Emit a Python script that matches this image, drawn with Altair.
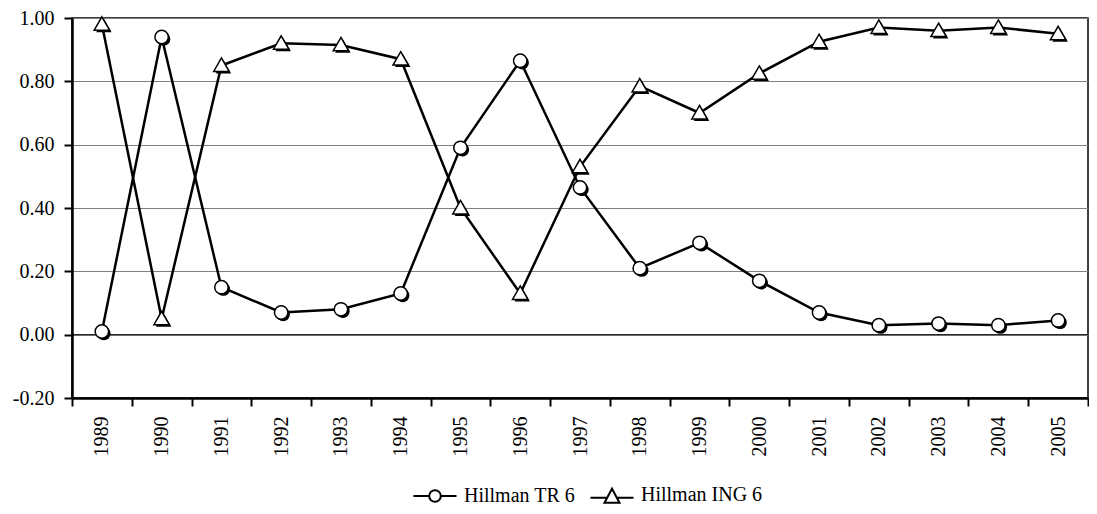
import altair as alt
import pandas as pd

years = [str(y) for y in range(1989, 2006)]
series_names = ["Hillman TR 6", "Hillman ING 6"]
tr6 = [0.01, 0.94, 0.15, 0.07, 0.08, 0.13, 0.59, 0.865, 0.465, 0.21, 0.29, 0.17, 0.07, 0.03, 0.035, 0.03, 0.045]
ing6 = [0.98, 0.05, 0.85, 0.92, 0.915, 0.87, 0.40, 0.13, 0.53, 0.785, 0.70, 0.825, 0.925, 0.97, 0.96, 0.97, 0.95]
y_ticks = [-0.2, 0.0, 0.2, 0.4, 0.6, 0.8, 1.0]

rows = []
for name, vals in zip(series_names, [tr6, ing6]):
    for yr, v in zip(years, vals):
        rows.append({"year": yr, "series": name, "value": v})
df = pd.DataFrame(rows)
zero_df = pd.DataFrame({"z": [0.0]})

FONT = "Times New Roman, Liberation Serif, serif"

x_enc = alt.X("year:N", sort=years,
              scale=alt.Scale(type="band", paddingInner=0, paddingOuter=0),
              axis=alt.Axis(title=None, labelAngle=-90, labelFontSize=20, labelFont=FONT,
                            labelColor="black", labelPadding=10, tickBand="extent",
                            tickSize=8, tickWidth=2, tickColor="black",
                            domainColor="black", domainWidth=2.5, grid=False))
y_enc = alt.Y("value:Q",
              scale=alt.Scale(domain=[-0.2, 1.0], nice=False, zero=False),
              axis=alt.Axis(title=None, values=y_ticks,
                            labelExpr="datum.value < 0 ? '-' + format(-datum.value, '.2f') : format(datum.value, '.2f')",
                            labelFontSize=20,
                            labelFont=FONT, labelColor="black", labelPadding=10,
                            tickSize=8, tickWidth=2, tickColor="black",
                            domainColor="black", domainWidth=2.5,
                            grid=True, gridColor="#808080", gridWidth=1))

tri_marker = "M 0 -1.12 L 1.15 0.88 L -1.15 0.88 Z"
shape_scale = alt.Scale(domain=series_names, range=["circle", tri_marker])

zero_rule = alt.Chart(zero_df).mark_rule(color="black", strokeWidth=1).encode(y=alt.Y("z:Q"))

lines = alt.Chart(df).mark_line(color="black", strokeWidth=2.5).encode(
    x=x_enc, y=y_enc, detail="series:N")

shadow = alt.Chart(df).mark_point(filled=True, color="black", opacity=1, xOffset=2, yOffset=2, size=180).encode(
    x=x_enc, y=y_enc, shape=alt.Shape("series:N", scale=shape_scale, legend=None))

markers = alt.Chart(df).mark_point(filled=True, fill="white", stroke="black", strokeWidth=1.5,
                                   opacity=1, size=180).encode(
    x=x_enc, y=y_enc, shape=alt.Shape("series:N", scale=shape_scale, legend=None))

circle_path = "M -1 0 L -0.27 0 M 0.27 0 L 1 0 M 0.27 0 A 0.27 0.27 0 1 1 -0.27 0 A 0.27 0.27 0 1 1 0.27 0 Z"
tri_path = "M -1 0.12 L -0.22 0.12 M 0.22 0.12 L 1 0.12 M 0 -0.3 L 0.35 0.36 L -0.35 0.36 Z"

legend_layer = alt.Chart(df).transform_filter("false").mark_point(
    filled=False, stroke="black", strokeWidth=2, opacity=1, size=1850).encode(
    x=x_enc, y=y_enc,
    shape=alt.Shape("series:N",
                    scale=alt.Scale(domain=series_names, range=[circle_path, tri_path]),
                    legend=alt.Legend(title=None, orient="none", direction="horizontal",
                                      legendX=340, legendY=454,
                                      labelFont=FONT, labelFontSize=20, labelColor="black",
                                      symbolSize=1850, symbolStrokeWidth=2,
                                      columnPadding=10, labelOffset=6)))

chart = alt.layer(zero_rule, lines, shadow, markers, legend_layer).resolve_scale(
    shape="independent"
).properties(
    width=1016, height=380,
    autosize=alt.AutoSizeParams(type="none"),
    padding={"left": 64, "top": 10, "right": 1, "bottom": 108},
    background="white",
).configure_view(stroke="black", strokeWidth=1.5)

chart.save("out.html", embed_options={"renderer": "svg", "actions": False})
